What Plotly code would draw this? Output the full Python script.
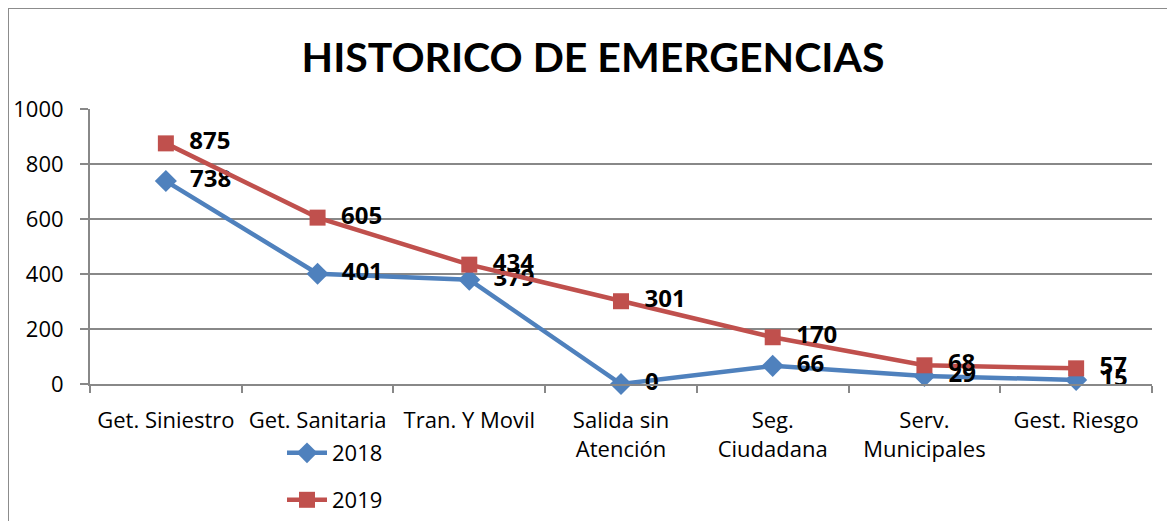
import plotly.graph_objects as go

categories = ["Get. Siniestro", "Get. Sanitaria", "Tran. Y Movil", "Salida sin<br>Atención",
              "Seg.<br>Ciudadana", "Serv.<br>Municipales", "Gest. Riesgo"]
values_2018 = [738, 401, 379, 0, 66, 29, 15]
values_2019 = [875, 605, 434, 301, 170, 68, 57]
y_ticks = [0, 200, 400, 600, 800, 1000]

BLUE = "#4F81BD"
RED = "#C0504D"
FONT = "Open Sans"
LABEL_FONT = dict(family="Open Sans", size=24, color="black", weight="bold")

fig = go.Figure()
fig.add_trace(go.Scatter(
    x=categories, y=values_2018, name="2018", mode="lines+markers+text",
    line=dict(color=BLUE, width=4.5),
    marker=dict(symbol="diamond", size=17, color=BLUE),
    text=[f"  {v}" for v in values_2018], textposition="middle right",
    textfont=LABEL_FONT, legend="legend", cliponaxis=False,
))
fig.add_trace(go.Scatter(
    x=categories, y=values_2019, name="2019", mode="lines+markers+text",
    line=dict(color=RED, width=4.5),
    marker=dict(symbol="square", size=16, color=RED),
    text=[f"  {v}" for v in values_2019], textposition="middle right",
    textfont=LABEL_FONT, legend="legend2", cliponaxis=False,
))

# page offset (body margin) compensation: screen = figure + OFF
OFF = 8
W, H = 1175, 521
# desired plot area in screen pixels
SX0, SX1, SY0, SY1 = 90, 1152, 109, 384
L = SX0 - OFF
T = SY0 - OFF
R = W - (SX1 - OFF)
B = H - (SY1 - OFF)

def px_x(sx):
    return (sx - SX0) / (SX1 - SX0)

def px_y(sy):
    return (SY1 - sy) / (SY1 - SY0)

fig.update_layout(
    width=W, height=H,
    margin=dict(l=L, r=R, t=T, b=B, autoexpand=False),
    paper_bgcolor="white", plot_bgcolor="white",
    font=dict(family=FONT, size=20, color="black"),
    title=dict(text="<b>HISTORICO DE EMERGENCIAS</b>", x=(593 - OFF) / W, xanchor="center",
               y=1 - (58 - OFF) / H, yanchor="middle",
               font=dict(family="Lato", size=41, color="black")),
    showlegend=True,
    legend=dict(x=px_x(282), y=px_y(453), xanchor="left", yanchor="middle",
                itemwidth=40, font=dict(family=FONT, size=22), bgcolor="rgba(0,0,0,0)"),
    legend2=dict(x=px_x(282), y=px_y(500), xanchor="left", yanchor="middle",
                 itemwidth=40, font=dict(family=FONT, size=22), bgcolor="rgba(0,0,0,0)"),
    xaxis=dict(
        type="category", range=[-0.5, 6.5],
        showline=True, linecolor="#888888", linewidth=2,
        ticks="outside", tickson="boundaries", ticklen=7, tickcolor="#888888", tickwidth=2,
        showgrid=False, tickfont=dict(family=FONT, size=22), tickangle=0,
        ticklabelstandoff=16,
    ),
    yaxis=dict(
        range=[0, 1000], tickvals=y_ticks,
        showline=True, linecolor="#888888", linewidth=2,
        ticks="outside", ticklen=8, tickcolor="#888888", tickwidth=2,
        showgrid=True, gridcolor="#888888", gridwidth=2,
        zeroline=False, tickfont=dict(family=FONT, size=22),
        ticklabelstandoff=12,
    ),
    shapes=[
        dict(type="line", xref="paper", yref="paper",
             x0=px_x(8), x1=px_x(1200), y0=px_y(8), y1=px_y(8),
             line=dict(color="#8c8c8c", width=2)),
        dict(type="line", xref="paper", yref="paper",
             x0=px_x(8), x1=px_x(8), y0=px_y(8), y1=px_y(540),
             line=dict(color="#8c8c8c", width=2)),
    ],
)

fig.write_html("out.html")
